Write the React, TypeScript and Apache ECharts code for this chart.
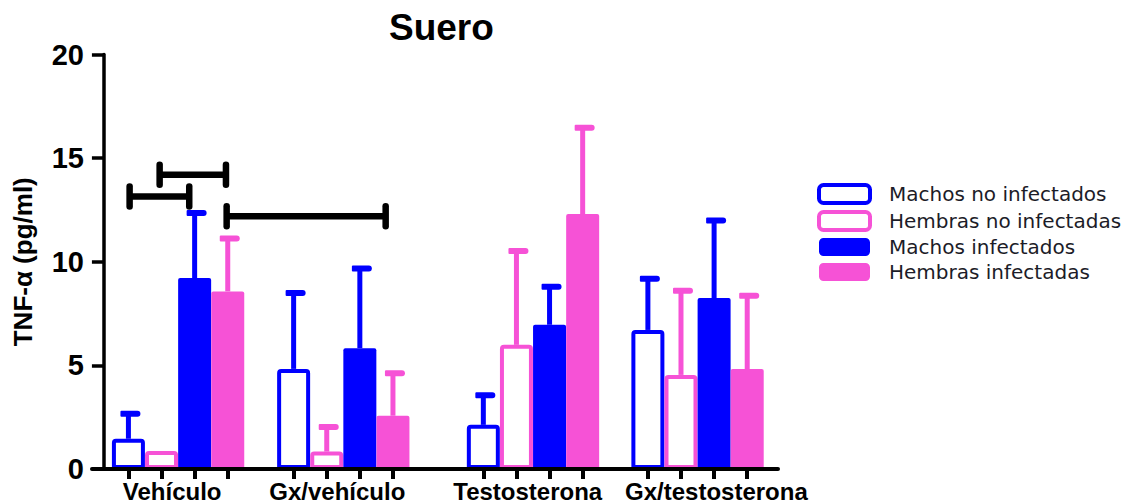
import React, { useEffect, useRef } from "react";
import * as echarts from "echarts";

// ---- data ----
const categories = ["Vehículo", "Gx/vehículo", "Testosterona", "Gx/testosterona"];
const seriesNames = [
  "Machos no infectados",
  "Hembras no infectadas",
  "Machos infectados",
  "Hembras infectadas",
];
// means (pg/ml)
const machosNoInf = [1.46, 4.83, 2.13, 6.71];
const hembrasNoInf = [0.87, 0.84, 5.99, 4.54];
const machosInf = [9.21, 5.83, 6.96, 8.25];
const hembrasInf = [8.57, 2.57, 12.3, 4.82];
// upper end of error bars (mean + SD)
const machosNoInfTop = [2.67, 8.49, 3.56, 9.18];
const hembrasNoInfTop = [0.87, 2.03, 10.52, 8.6];
const machosInfTop = [12.35, 9.67, 8.79, 11.99];
const hembrasInfTop = [11.12, 4.62, 16.47, 8.36];

// positions on the x value axis (1 unit = 1 bar)
const groupCenters = [2.24, 7.23, 12.96, 17.93];
const barOffsets = [-1.5, -0.5, 0.5, 1.5];
const labelPositions = [2.06, 7.05, 12.8, 18.5];
// significance brackets: [x start, x end, y]
const brackets = [
  [0.776, 2.577, 13.15],
  [1.683, 3.686, 14.2],
  [3.707, 8.51, 12.19],
];

const BLUE = "#0000FF";
const PINK = "#F652D6";
const colors = [BLUE, PINK, BLUE, PINK];
const outlined = [true, true, false, false];
const means = [machosNoInf, hembrasNoInf, machosInf, hembrasInf];
const tops = [machosNoInfTop, hembrasNoInfTop, machosInfTop, hembrasInfTop];

const FONT = "'Liberation Sans', Arial, Helvetica, sans-serif";

export default function App() {
  const ref = useRef<HTMLDivElement>(null);

  useEffect(() => {
    if (!ref.current) return;
    const chart = echarts.init(ref.current, undefined, { renderer: "svg" });

    const tickValues: number[] = [];
    groupCenters.forEach((c) => barOffsets.forEach((o) => tickValues.push(+(c + o).toFixed(3))));

    const barSeries = seriesNames.map((name, s) => ({
      type: "bar",
      name,
      barWidth: 33,
      barGap: "-100%",
      z: 2,
      itemStyle: outlined[s]
        ? { color: "#ffffff", borderColor: colors[s], borderWidth: 4, borderRadius: [2, 2, 0, 0] }
        : { color: colors[s], borderWidth: 0, borderRadius: [2, 2, 0, 0] },
      data: means[s].map((v, g) => [groupCenters[g] + barOffsets[s], v]),
    }));

    const errSeries = seriesNames.map((name, s) => ({
      type: "custom",
      name: name + " SD",
      z: 4,
      silent: true,
      encode: { x: 0, y: [1, 2] },
      data: means[s].map((v, g) => [groupCenters[g] + barOffsets[s], v, tops[s][g]]),
      renderItem: (params: any, api: any) => {
        const x = api.value(0);
        const m = api.value(1);
        const t = api.value(2);
        if (!(t > m)) return null;
        const p0 = api.coord([x, m]);
        const p1 = api.coord([x, t]);
        return {
          type: "group",
          children: [
            {
              type: "rect",
              shape: { x: p0[0] - 2.5, y: p1[1], width: 5, height: p0[1] - p1[1] },
              style: { fill: colors[s] },
            },
            {
              type: "rect",
              shape: { x: p0[0] - 8, y: p1[1] - 3, width: 20, height: 6, r: [1, 3, 3, 1] },
              style: { fill: colors[s] },
            },
          ],
        };
      },
    }));

    const bracketSeries = {
      type: "custom",
      name: "brackets",
      z: 5,
      silent: true,
      encode: { x: [0, 1], y: 2 },
      data: brackets,
      renderItem: (params: any, api: any) => {
        const a = api.coord([api.value(0), api.value(2)]);
        const b = api.coord([api.value(1), api.value(2)]);
        const st = { stroke: "#000", lineWidth: 6.5, lineCap: "round" };
        return {
          type: "group",
          children: [
            { type: "line", shape: { x1: a[0], y1: a[1], x2: b[0], y2: b[1] }, style: { ...st, lineCap: "butt" } },
            { type: "line", shape: { x1: a[0], y1: a[1] - 10, x2: a[0], y2: a[1] + 10 }, style: st },
            { type: "line", shape: { x1: b[0], y1: b[1] - 10, x2: b[0], y2: b[1] + 10 }, style: st },
          ],
        };
      },
    };

    chart.setOption({
      animation: false,
      backgroundColor: "#ffffff",
      title: {
        text: "Suero",
        left: 384,
        top: 4,
        textStyle: { fontFamily: FONT, fontSize: 37, fontWeight: "bold", color: "#000" },
      },
      legend: {
        orient: "vertical",
        left: 812,
        top: 178,
        itemWidth: 51,
        itemHeight: 18,
        itemGap: 5,
        icon: "roundRect",
        selectedMode: false,
        textStyle: {
          fontFamily: "'DejaVu Sans', sans-serif",
          fontSize: 20,
          lineHeight: 20,
          color: "#1c1c28",
          padding: [0, 0, 0, 14],
        },
        data: seriesNames.map((n, i) => ({
          name: n,
          itemStyle: outlined[i]
            ? { color: "#ffffff", borderColor: colors[i], borderWidth: 4 }
            : { color: colors[i], borderWidth: 0 },
        })),
      },
      grid: {
        left: 92,
        right: 350,
        top: 54.5,
        bottom: 35,
        containLabel: false,
        outerBoundsMode: "none",
      },
      xAxis: {
        type: "value",
        min: -0.36,
        max: 20.36,
        z: 10,
        splitLine: { show: false },
        axisLine: { show: true, lineStyle: { color: "#000", width: 4 } },
        axisTick: {
          show: true,
          customValues: tickValues,
          length: 10,
          lineStyle: { color: "#000", width: 4 },
        },
        axisLabel: {
          show: true,
          customValues: labelPositions,
          margin: 10,
          fontFamily: FONT,
          fontSize: 24,
          lineHeight: 24,
          fontWeight: "bold",
          color: "#000",
          formatter: (v: number) => {
            const i = labelPositions.findIndex((p) => Math.abs(p - v) < 0.01);
            return i >= 0 ? categories[i] : "";
          },
        },
      },
      yAxis: {
        type: "value",
        min: 0,
        max: 20,
        interval: 5,
        z: 10,
        name: "TNF-α (pg/ml)",
        nameLocation: "middle",
        nameGap: 56,
        nameTextStyle: { fontFamily: FONT, fontSize: 26, fontWeight: "bold", color: "#000" },
        splitLine: { show: false },
        axisLine: { show: true, onZero: true, lineStyle: { color: "#000", width: 3.5 } },
        axisTick: { show: true, length: 12, lineStyle: { color: "#000", width: 3.5 } },
        axisLabel: {
          margin: 8,
          fontFamily: FONT,
          fontSize: 29,
          fontWeight: "bold",
          color: "#000",
        },
      },
      series: [...barSeries, ...errSeries, bracketSeries],
    });

    return () => chart.dispose();
  }, []);

  return (
    <div
      ref={ref}
      style={{ position: "absolute", left: 0, top: 0, width: 1128, height: 504, background: "#fff" }}
    />
  );
}
